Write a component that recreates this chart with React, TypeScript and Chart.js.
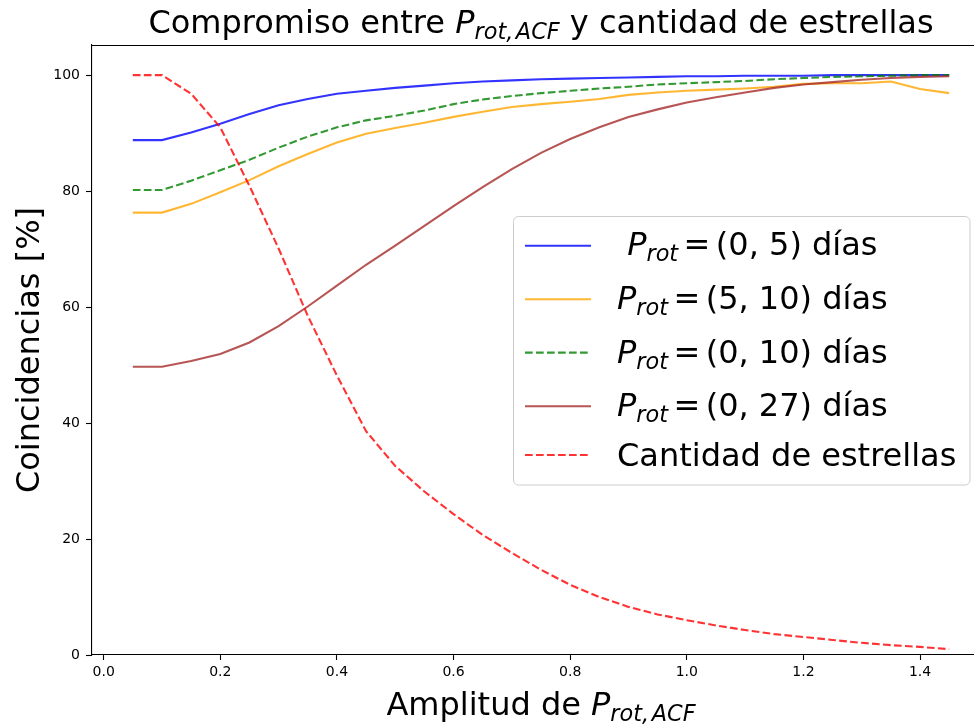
import React, { useEffect, useRef } from "react";
import { Chart, registerables } from "chart.js";

Chart.register(...registerables);

// ---------------- data ----------------
const X_VALUES = [
  0.05, 0.1, 0.15, 0.2, 0.25, 0.3, 0.35, 0.4, 0.45, 0.5, 0.55, 0.6, 0.65, 0.7, 0.75,
  0.8, 0.85, 0.9, 0.95, 1.0, 1.05, 1.1, 1.15, 1.2, 1.25, 1.3, 1.35, 1.4, 1.45,
];

const P_0_5 = [
  88.8, 88.8, 90.1, 91.6, 93.3, 94.8, 95.9, 96.8, 97.3, 97.8, 98.2, 98.6, 98.9, 99.1, 99.3,
  99.4, 99.5, 99.6, 99.7, 99.8, 99.8, 99.9, 99.9, 99.9, 100, 100, 100, 100, 100,
];

const P_5_10 = [
  76.3, 76.3, 77.8, 79.8, 81.9, 84.3, 86.4, 88.4, 89.9, 90.9, 91.8, 92.8, 93.7, 94.5, 95.0,
  95.4, 95.9, 96.6, 97.0, 97.3, 97.5, 97.7, 98.0, 98.5, 98.6, 98.6, 98.9, 97.6, 96.9,
];

const P_0_10 = [
  80.2, 80.2, 81.8, 83.6, 85.4, 87.5, 89.4, 91.0, 92.2, 93.0, 93.9, 95.0, 95.8, 96.4, 96.9,
  97.3, 97.7, 98.0, 98.4, 98.6, 98.8, 99.0, 99.3, 99.5, 99.7, 99.8, 99.9, 100, 100,
];

const P_0_27 = [
  49.7, 49.7, 50.7, 51.9, 53.9, 56.7, 60.1, 63.7, 67.3, 70.6, 74.0, 77.4, 80.7, 83.8, 86.6,
  89.0, 91.0, 92.8, 94.1, 95.3, 96.2, 97.0, 97.8, 98.4, 98.8, 99.2, 99.5, 99.7, 99.8,
];

const CANTIDAD = [
  100, 100, 96.8, 91.0, 80.9, 70.1, 58.5, 48.2, 38.6, 32.6, 28.2, 24.3, 20.7, 17.6, 14.7,
  12.1, 10.0, 8.3, 7.0, 6.0, 5.1, 4.3, 3.6, 3.1, 2.6, 2.1, 1.7, 1.4, 1.0,
];

const SERIES_LABELS = [
  " P_rot = (0, 5) días",
  "P_rot = (5, 10) días",
  "P_rot = (0, 10) días",
  "P_rot = (0, 27) días",
  "Cantidad de estrellas",
];

const X_TICKS = [0, 0.2, 0.4, 0.6, 0.8, 1.0, 1.2, 1.4];
const X_TICK_LABELS = ["0.0", "0.2", "0.4", "0.6", "0.8", "1.0", "1.2", "1.4"];
const Y_TICKS = [0, 20, 40, 60, 80, 100];
const Y_TICK_LABELS = ["0", "20", "40", "60", "80", "100"];

const TITLE = "Compromiso entre P_rot,ACF y cantidad de estrellas";
const X_TITLE = "Amplitud de P_rot,ACF";
const Y_TITLE = "Coincidencias [%]";

// ---------------- styles ----------------
const FAMILY = "'DejaVu Sans'";
const COLORS = [
  "rgba(0,0,255,0.8)",
  "rgba(255,165,0,0.8)",
  "rgba(0,128,0,0.8)",
  "rgba(165,42,42,0.8)",
  "rgba(255,0,0,0.8)",
];
const DASHED = [false, false, true, false, true];
const SERIES = [P_0_5, P_5_10, P_0_10, P_0_27, CANTIDAD];

type Seg = { t: string; it?: boolean; sub?: boolean; gap?: number };

function segFont(s: Seg, size: number) {
  const sz = s.sub ? size * 0.7 : size;
  return `${s.it ? "italic " : ""}${sz}px ${FAMILY}`;
}

function drawMath(
  ctx: CanvasRenderingContext2D,
  segs: Seg[],
  x: number,
  baseline: number,
  size: number,
  align: "left" | "center"
) {
  ctx.save();
  ctx.textAlign = "left";
  ctx.textBaseline = "alphabetic";
  let total = 0;
  for (const s of segs) {
    ctx.font = segFont(s, size);
    total += (s.gap || 0) * size + ctx.measureText(s.t).width;
  }
  let cx = align === "center" ? x - total / 2 : x;
  for (const s of segs) {
    cx += (s.gap || 0) * size;
    ctx.font = segFont(s, size);
    ctx.fillText(s.t, cx, baseline + (s.sub ? size * 0.19 : 0));
    cx += ctx.measureText(s.t).width;
  }
  ctx.restore();
}

// Convert "A P_rot,ACF B" style strings into math segments
function toSegs(label: string): Seg[] {
  const idx = label.indexOf("P_");
  if (idx < 0) return [{ t: label }];
  const before = label.slice(0, idx);
  const rest = label.slice(idx + 2);
  const m = rest.match(/^([A-Za-z,]+)(.*)$/);
  const sub = m ? m[1] : "";
  let after = m ? m[2] : rest;
  const segs: Seg[] = [];
  if (before) segs.push({ t: before });
  segs.push({ t: "P", it: true });
  const parts = sub.split(",");
  parts.forEach((p, i) => {
    segs.push({ t: p + (i < parts.length - 1 ? "," : ""), it: true, sub: true, gap: i > 0 ? 0.08 : 0 });
  });
  const eq = after.match(/^\s*=\s*(\([^)]*\))(.*)$/);
  if (eq) {
    segs.push({ t: "=", gap: 0.17 });
    segs.push({ t: eq[1], gap: 0.17 });
    segs.push({ t: eq[2] });
  } else if (after) {
    segs.push({ t: after });
  }
  return segs;
}

const LEGEND_LINE_Y = [245.7, 299.2, 352.6, 406.2, 455];
const LEGEND_BASE_OFF = [9.6, 9.6, 10.2, 10.2, 10.5];

const textPlugin = {
  id: "mplText",
  afterDraw(chart: any) {
    const ctx: CanvasRenderingContext2D = chart.ctx;
    const a = chart.chartArea;
    // top spine
    ctx.save();
    ctx.strokeStyle = "#000";
    ctx.lineWidth = 1.1;
    ctx.beginPath();
    ctx.moveTo(a.left, a.top + 0.5);
    ctx.lineTo(a.right, a.top + 0.5);
    ctx.stroke();
    ctx.restore();

    ctx.fillStyle = "#000";
    const cxAxes = (a.left + a.right) / 2;
    // title
    drawMath(ctx, toSegs(TITLE), cxAxes, 32.5, 32, "center");
    // x title
    drawMath(ctx, toSegs(X_TITLE), cxAxes, 715, 32, "center");
    // y title
    ctx.save();
    ctx.translate(38.5, (a.top + a.bottom) / 2);
    ctx.rotate(-Math.PI / 2);
    ctx.font = `32px ${FAMILY}`;
    ctx.textAlign = "center";
    ctx.textBaseline = "alphabetic";
    ctx.fillStyle = "#000";
    ctx.fillText(Y_TITLE, 0, 0);
    ctx.restore();

    // legend
    ctx.save();
    ctx.beginPath();
    (ctx as any).roundRect(513.5, 216.5, 456.5, 268.5, 5);
    ctx.fillStyle = "rgba(255,255,255,0.8)";
    ctx.fill();
    ctx.strokeStyle = "rgb(204,204,204)";
    ctx.lineWidth = 1;
    ctx.stroke();
    ctx.restore();

    chart.data.datasets.forEach((ds: any, i: number) => {
      const ly = LEGEND_LINE_Y[i];
      ctx.save();
      ctx.strokeStyle = ds.borderColor;
      ctx.lineWidth = ds.borderWidth;
      ctx.setLineDash(ds.borderDash || []);
      ctx.beginPath();
      ctx.moveTo(525, ly);
      ctx.lineTo(591, ly);
      ctx.stroke();
      ctx.restore();
      ctx.fillStyle = "#000";
      drawMath(ctx, toSegs(ds.label), 617, ly + LEGEND_BASE_OFF[i], 32, "left");
    });
  },
};

export default function App() {
  const ref = useRef<HTMLCanvasElement | null>(null);

  useEffect(() => {
    if (!ref.current) return;
    const datasets = SERIES.map((vals, i) => ({
      label: SERIES_LABELS[i],
      data: X_VALUES.map((x, j) => ({ x, y: vals[j] })),
      borderColor: COLORS[i],
      backgroundColor: COLORS[i],
      borderWidth: 2.1,
      borderDash: DASHED[i] ? [7.7, 3.3] : [],
      pointRadius: 0,
      tension: 0,
      fill: false,
      order: 4 - i,
    }));
    const tickFont = { family: "DejaVu Sans", size: 14 };
    const chart = new Chart(ref.current, {
      type: "line",
      data: { datasets },
      plugins: [textPlugin],
      options: {
        responsive: false,
        animation: false,
        devicePixelRatio: 1,
        layout: { padding: { top: 45, right: 0, left: 0, bottom: 0 } },
        plugins: {
          legend: { display: false },
          title: { display: false },
          tooltip: { enabled: false },
        },
        scales: {
          x: {
            type: "linear",
            min: -0.02,
            max: 1.52,
            afterFit: (s: any) => {
              s.height = 70;
            },
            afterBuildTicks: (s: any) => {
              s.ticks = X_TICKS.map((v) => ({ value: v }));
            },
            ticks: {
              callback: (_v: any, idx: number) => X_TICK_LABELS[idx],
              color: "#000",
              font: tickFont,
              padding: 4,
              maxRotation: 0,
              autoSkip: false,
            },
            grid: {
              display: true,
              drawOnChartArea: false,
              drawTicks: true,
              tickLength: 5,
              tickWidth: 1.1,
              tickColor: "#000",
            },
            border: { display: true, color: "#000", width: 1.1 },
          },
          y: {
            type: "linear",
            min: 0,
            max: 105.2,
            afterFit: (s: any) => {
              s.width = 92;
            },
            afterBuildTicks: (s: any) => {
              s.ticks = Y_TICKS.map((v) => ({ value: v }));
            },
            ticks: {
              callback: (_v: any, idx: number) => Y_TICK_LABELS[idx],
              color: "#000",
              font: tickFont,
              padding: 6,
              autoSkip: false,
            },
            grid: {
              display: true,
              drawOnChartArea: false,
              drawTicks: true,
              tickLength: 6,
              tickWidth: 1.1,
              tickColor: "#000",
            },
            border: { display: true, color: "#000", width: 1.1 },
          },
        },
      } as any,
    });
    return () => chart.destroy();
  }, []);

  return (
    <div
      style={{
        position: "fixed",
        left: 0,
        top: 0,
        width: 974,
        height: 725,
        overflow: "hidden",
        background: "#fff",
      }}
    >
      <canvas ref={ref} width={990} height={725} style={{ display: "block", width: 990, height: 725 }} />
    </div>
  );
}
